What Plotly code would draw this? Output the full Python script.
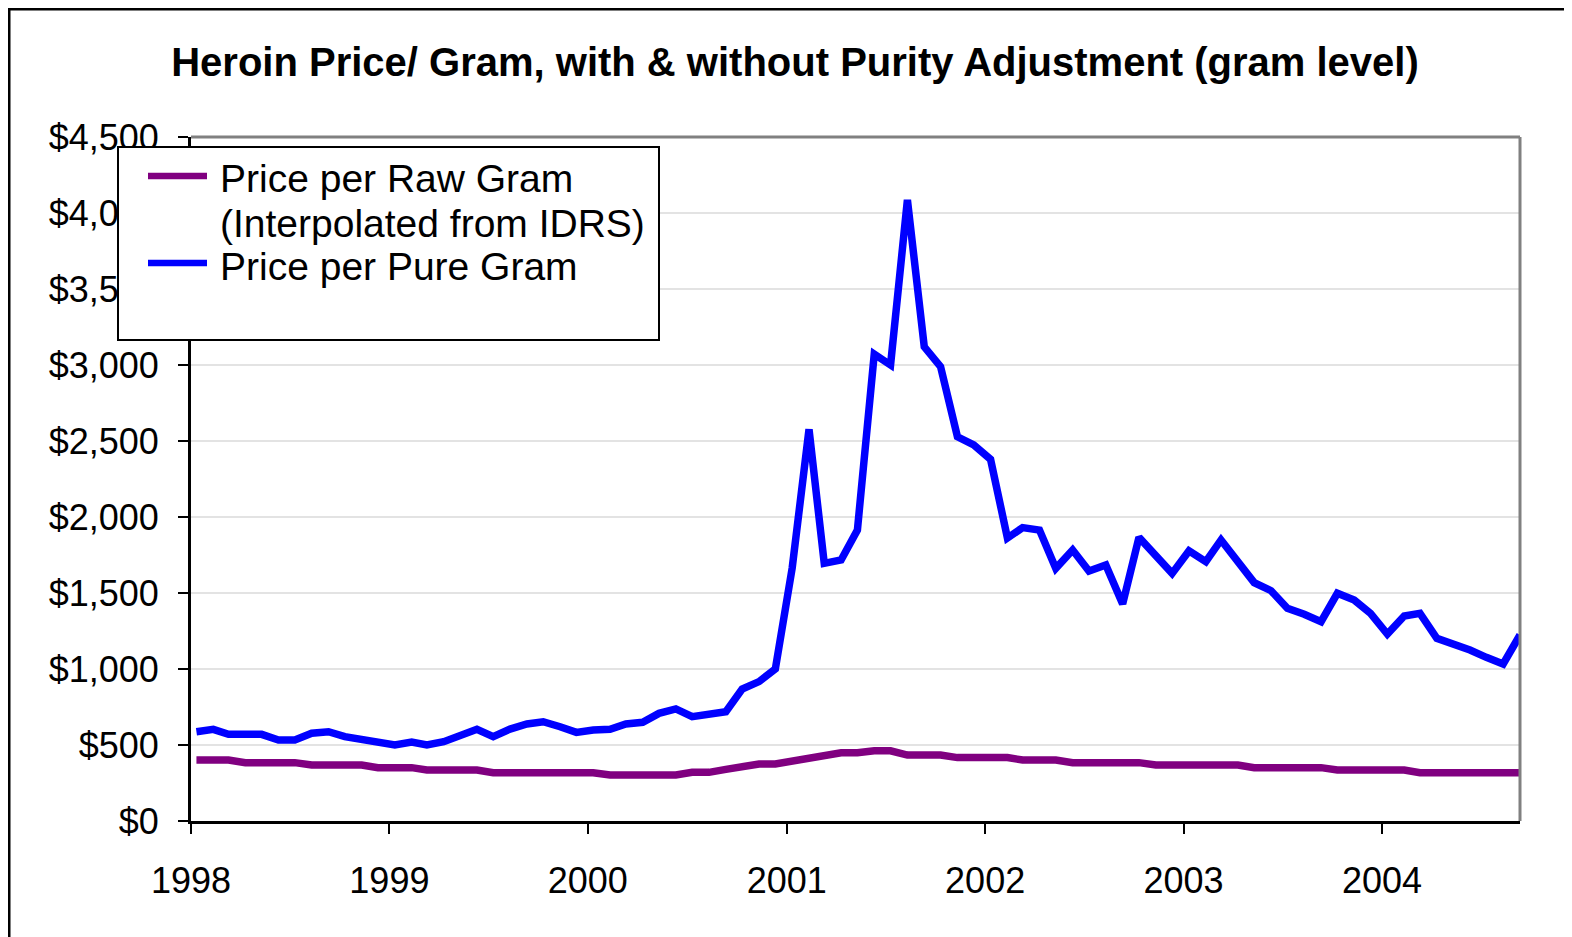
import plotly.graph_objects as go
import pandas as pd

# Monthly observations, Jan 1998 .. Sep 2004
months = [f"{1998 + i // 12}-{i % 12 + 1:02d}" for i in range(81)]

pure_gram = [
    587, 603, 570, 570, 570, 533, 533, 577, 587, 555, 537, 518,
    500, 520, 500, 522, 561, 603, 555, 605, 638, 653, 620, 583,
    599, 603, 638, 649, 708, 737, 686, 704, 719, 868, 917, 1000,
    1664, 2577, 1695, 1717, 1914, 3072, 3000, 4086, 3120, 2989, 2528, 2474,
    2379, 1862, 1930, 1914, 1662, 1783, 1645, 1684, 1428, 1866, 1750, 1629,
    1777, 1706, 1849, 1706, 1568, 1515, 1399, 1360, 1311, 1498, 1454, 1366,
    1230, 1349, 1366, 1202, 1169, 1125, 1077, 1033, 1224,
]

raw_gram = [
    401, 401, 401, 384, 384, 384, 384, 368, 368, 368, 368, 351,
    351, 351, 336, 336, 336, 336, 318, 318, 318, 318, 318, 318,
    318, 303, 303, 303, 303, 303, 320, 320, 340, 357, 375, 375,
    395, 414, 432, 449, 449, 462, 462, 434, 434, 434, 417, 417,
    417, 417, 401, 401, 401, 384, 384, 384, 384, 384, 368, 368,
    368, 368, 368, 368, 351, 351, 351, 351, 351, 336, 336, 336,
    336, 336, 318, 318, 318, 318, 318, 318, 318,
]

year_ticks = ["1998", "1999", "2000", "2001", "2002", "2003", "2004"]

legend_lines = ["Price per Raw Gram", "(Interpolated from IDRS)", "Price per Pure Gram"]
series_names = ["Price per Raw Gram (Interpolated from IDRS)", "Price per Pure Gram"]
colors = ["#800080", "#0000FF"]

title_text = "Heroin Price/ Gram, with &amp; without Purity Adjustment (gram level)"

dates = pd.to_datetime(months) + pd.Timedelta(days=10)

FONT = "Liberation Sans, Arial, sans-serif"

# page has an 8px body margin; figure sized to fit the window exactly
OFF = 8
W, H = 1572 - OFF, 937 - OFF
L, T = 191 - OFF, 137 - OFF
R = W - (1520 - OFF)
B = H - (821 - OFF)
pw, ph = W - L - R, H - T - B


def fx(page_x):
    return (page_x - OFF - L) / pw


def fy(page_y):
    return (H - B - (page_y - OFF)) / ph


fig = go.Figure()
fig.add_trace(go.Scatter(x=dates, y=raw_gram, mode="lines", name=series_names[0],
                         line=dict(color=colors[0], width=7.5), showlegend=False))
fig.add_trace(go.Scatter(x=dates, y=pure_gram, mode="lines", name=series_names[1],
                         line=dict(color=colors[1], width=7.5), showlegend=False))

fig.update_layout(
    width=W, height=H,
    margin=dict(l=L, r=R, t=T, b=B),
    paper_bgcolor="white", plot_bgcolor="white",
    font=dict(family=FONT, color="black"),
    title=dict(text=f"<b>{title_text}</b>",
               x=(795 - OFF) / W, xanchor="center", xref="container",
               y=1 - (62 - OFF) / H, yanchor="middle",
               font=dict(size=40, family=FONT, color="black")),
    showlegend=False,
)

fig.update_xaxes(
    type="date",
    range=["1998-01-01", "2004-09-11"],
    tickmode="array",
    tickvals=[f"{y}-01-01" for y in year_ticks],
    ticktext=year_ticks,
    showgrid=False,
    showline=True, linecolor="black", linewidth=3,
    ticks="outside", ticklen=10, tickwidth=2, tickcolor="black",
    tickfont=dict(size=36, family=FONT, color="black"),
    ticklabelstandoff=16,
    zeroline=False,
)

fig.update_yaxes(
    range=[0, 4500], dtick=500, tick0=0,
    tickprefix="$", tickformat=",",
    showgrid=True, gridcolor="#e3e3e3", gridwidth=1.5,
    showline=True, linecolor="black", linewidth=3,
    ticks="outside", ticklen=10, tickwidth=2, tickcolor="black",
    tickfont=dict(size=36, family=FONT, color="black"),
    ticklabelstandoff=12,
    zeroline=False,
)

shapes = [
    # plot frame top & right (gray)
    dict(type="line", xref="paper", yref="paper", x0=0, x1=1, y0=1, y1=1,
         line=dict(color="#808080", width=3), layer="above"),
    dict(type="line", xref="paper", yref="paper", x0=1, x1=1, y0=0, y1=1,
         line=dict(color="#808080", width=3), layer="above"),
    # legend box
    dict(type="rect", xref="paper", yref="paper",
         x0=fx(118), x1=fx(659), y0=fy(340), y1=fy(147),
         line=dict(color="black", width=2), fillcolor="white", layer="above"),
    # legend swatches
    dict(type="line", xref="paper", yref="paper", x0=fx(148), x1=fx(207), y0=fy(176), y1=fy(176),
         line=dict(color=colors[0], width=6.5), layer="above"),
    dict(type="line", xref="paper", yref="paper", x0=fx(148), x1=fx(207), y0=fy(263), y1=fy(263),
         line=dict(color=colors[1], width=6.5), layer="above"),
    # outer chart border (top and left)
    dict(type="line", xref="paper", yref="paper", x0=fx(8), x1=fx(1580), y0=fy(9), y1=fy(9),
         line=dict(color="black", width=3), layer="above"),
    dict(type="line", xref="paper", yref="paper", x0=fx(9), x1=fx(9), y0=fy(8), y1=fy(945),
         line=dict(color="black", width=3), layer="above"),
]
fig.update_layout(shapes=shapes)

for txt, yc in zip(legend_lines, [179, 224, 266]):
    fig.add_annotation(text=txt, xref="paper", yref="paper", x=fx(218), y=fy(yc),
                       xanchor="left", yanchor="middle", showarrow=False,
                       font=dict(size=39, family=FONT, color="black"))

fig.write_html("out.html")
